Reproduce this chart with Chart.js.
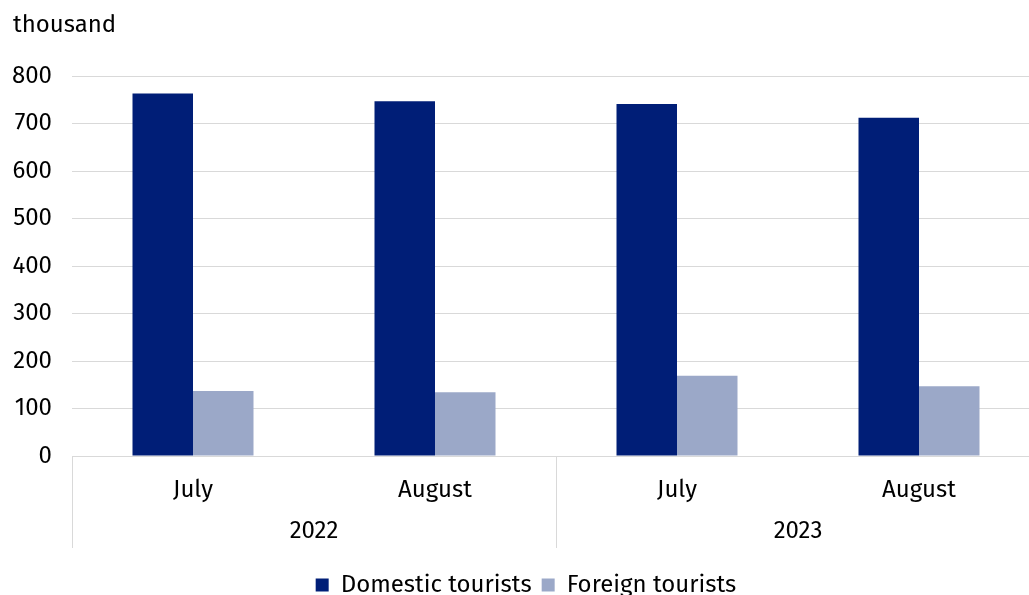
<!DOCTYPE html>
<html>
<head>
<meta charset="utf-8">
<script src="https://cdn.jsdelivr.net/npm/chart.js@4.4.1/dist/chart.umd.min.js"></script>
<style>
    html, body { margin: 0; padding: 0; background: #ffffff; overflow: hidden; }
    #wrap { width: 1029px; height: 595px; overflow: hidden; }
</style>
</head>
<body>
<div id="wrap"><canvas id="myChart" width="1073" height="607"></canvas></div>
<script>
const months = ['July', 'August', 'July', 'August'];
const years = ['2022', '2023'];
const domestic = [763, 747, 741, 712];
const foreign = [137, 134, 169, 147];
const unitLabel = 'thousand';

const fontFamily = "'Fira Sans', 'Noto Sans', sans-serif";
const fontSize = 24;
const gridColor = '#d9d9d9';

// подписи годов и разделители под осью X
const yearRow = {
    id: 'yearRow',
    afterDraw: chart => {
        const ctx = chart.ctx;
        const x = chart.scales.x;
        const top = chart.chartArea.bottom;
        const bottom = top + 92;
        const per = months.length / years.length;
        const step = (x.getPixelForValue(1) - x.getPixelForValue(0));
        ctx.save();
        ctx.strokeStyle = gridColor;
        ctx.lineWidth = 1;
        for (let i = 0; i <= years.length; i++) {
            const px = Math.round(x.getPixelForValue(i * per) - step / 2) + 0.5;
            ctx.beginPath();
            ctx.moveTo(px, top);
            ctx.lineTo(px, bottom);
            ctx.stroke();
        }
        ctx.fillStyle = '#000000';
        ctx.font = `${fontSize}px ${fontFamily}`;
        ctx.textAlign = 'center';
        ctx.textBaseline = 'middle';
        years.forEach((y, i) => {
            const a = x.getPixelForValue(i * per);
            const b = x.getPixelForValue(i * per + per - 1);
            ctx.fillText(y, (a + b) / 2, top + 75);
        });
        // единицы измерения
        ctx.textAlign = 'left';
        ctx.fillText(unitLabel, 13, 25);
        ctx.restore();
    }
};

const chart = new Chart(document.getElementById('myChart'), {
    type: 'bar',
    data: {
        labels: months,
        datasets: [{
            label: 'Domestic tourists',
            data: domestic,
            backgroundColor: '#001e77',
            categoryPercentage: 0.5,
            barPercentage: 1.0
        }, {
            label: 'Foreign tourists',
            data: foreign,
            backgroundColor: '#9ba8c8',
            categoryPercentage: 0.5,
            barPercentage: 1.0
        }]
    },
    options: {
        responsive: false,
        animation: false,
        devicePixelRatio: 1,
        layout: {
            padding: { top: 76, left: 12, right: 33, bottom: 0 }
        },
        scales: {
            x: {
                grid: { display: false },
                border: { display: true, color: gridColor },
                ticks: {
                    color: '#000000',
                    font: { family: fontFamily, size: fontSize },
                    padding: 12,
                    maxRotation: 0
                },
                afterFit: scale => { scale.height = 107; }
            },
            y: {
                min: 0,
                max: 800,
                grid: { color: gridColor, drawTicks: false },
                border: { display: false },
                ticks: {
                    stepSize: 100,
                    color: '#000000',
                    font: { family: fontFamily, size: fontSize },
                    padding: 20
                },
                afterFit: scale => { scale.width = 60; }
            }
        },
        plugins: {
            legend: {
                position: 'bottom',
                labels: {
                    color: '#000000',
                    boxWidth: 13,
                    boxHeight: 13,
                    padding: 10,
                    font: { family: fontFamily, size: fontSize }
                }
            },
            tooltip: { enabled: false },
            title: { display: false }
        }
    },
    plugins: [yearRow]
});
</script>
</body>
</html>
